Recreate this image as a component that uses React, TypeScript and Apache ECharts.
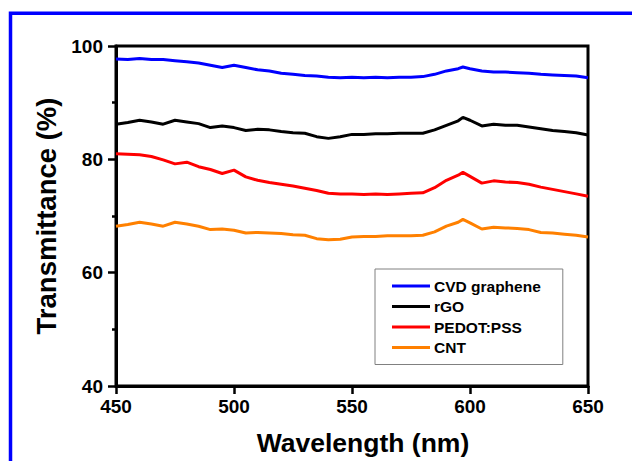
import React, { useEffect, useRef } from "react";
import * as echarts from "echarts";

const wavelengths = [
  450, 455, 460, 465, 470, 475, 480, 485, 490, 495, 500, 505, 510, 515, 520, 525, 530, 535, 540, 545,
  550, 555, 560, 565, 570, 575, 580, 585, 590, 595, 597, 600, 605, 610, 615, 620, 625, 630, 635, 640,
  645, 650,
];

const cvdGraphene = [
  97.7, 97.6, 97.8, 97.6, 97.6, 97.4, 97.2, 97.0, 96.6, 96.2, 96.6, 96.2, 95.8, 95.6, 95.2, 95.0, 94.8, 94.7, 94.5, 94.4,
  94.5, 94.4, 94.5, 94.4, 94.5, 94.5, 94.6, 95.0, 95.6, 96.0, 96.3, 96.0, 95.6, 95.4, 95.4, 95.3, 95.2, 95.0, 94.9, 94.8,
  94.7, 94.4,
];

const rGO = [
  86.2, 86.5, 86.9, 86.6, 86.2, 86.9, 86.6, 86.3, 85.6, 85.9, 85.6, 85.1, 85.3, 85.2, 84.9, 84.7, 84.6, 84.0, 83.7, 84.0,
  84.4, 84.4, 84.5, 84.5, 84.6, 84.6, 84.6, 85.2, 86.0, 86.8, 87.4, 86.9, 85.9, 86.2, 86.0, 86.0, 85.7, 85.4, 85.1, 84.9,
  84.7, 84.3,
];

const pedotPss = [
  81.0, 80.9, 80.8, 80.5, 79.9, 79.2, 79.5, 78.7, 78.2, 77.5, 78.1, 76.9, 76.3, 75.9, 75.6, 75.3, 74.9, 74.5, 74.0, 73.9,
  73.9, 73.8, 73.9, 73.8, 73.9, 74.0, 74.1, 75.0, 76.3, 77.2, 77.7, 77.0, 75.8, 76.2, 76.0, 75.9, 75.6, 75.1, 74.7, 74.3,
  73.9, 73.5,
];

const cnt = [
  68.2, 68.5, 68.9, 68.6, 68.2, 68.9, 68.6, 68.2, 67.6, 67.7, 67.5, 67.0, 67.1, 67.0, 66.9, 66.7, 66.6, 66.0, 65.8, 65.9,
  66.3, 66.4, 66.4, 66.5, 66.5, 66.5, 66.6, 67.2, 68.2, 68.9, 69.4, 68.8, 67.7, 68.0, 67.9, 67.8, 67.6, 67.1, 67.0, 66.8,
  66.6, 66.3,
];

const seriesNames = ["CVD graphene", "rGO", "PEDOT:PSS", "CNT"];
const seriesValues = [cvdGraphene, rGO, pedotPss, cnt];
const seriesColors = ["#0000FF", "#000000", "#FF0000", "#FF8000"];

const FONT = "'Liberation Sans', Arial, sans-serif";

export default function App() {
  const ref = useRef<HTMLDivElement>(null);

  useEffect(() => {
    if (!ref.current) return;
    const chart = echarts.init(ref.current, null, { renderer: "svg" });
    chart.setOption({
      animation: false,
      backgroundColor: "#ffffff",
      textStyle: { fontFamily: FONT },
      graphic: [
        {
          type: "rect",
          z: -10,
          shape: { x: 10.5, y: 13.3, width: 800, height: 800 },
          style: { fill: "none", stroke: "#0000FF", lineWidth: 3.5 },
        },
      ],
      grid: {
        left: 116,
        width: 472,
        top: 46,
        height: 344,
        show: true,
        borderColor: "#000",
        borderWidth: 3,
        backgroundColor: "transparent",
      },
      legend: {
        orient: "vertical",
        left: 375,
        top: 269,
        padding: [9, 22, 9, 17],
        itemGap: 4.5,
        itemWidth: 38,
        itemHeight: 3,
        icon: "rect",
        backgroundColor: "#fff",
        borderColor: "#808080",
        borderWidth: 1,
        textStyle: { fontFamily: FONT, fontSize: 15.5, fontWeight: "bold", color: "#000", padding: [0, 0, 0, -1] },
        data: seriesNames,
      },
      xAxis: {
        type: "value",
        min: 450,
        max: 650,
        interval: 50,
        name: "Wavelength (nm)",
        nameLocation: "middle",
        nameGap: 43,
        nameTextStyle: { fontFamily: FONT, fontSize: 26.5, fontWeight: "bold", color: "#000", padding: [0, 0, 0, 22] },
        axisLine: { show: true, lineStyle: { color: "#000", width: 3 } },
        axisTick: { show: true, inside: false, length: 8, lineStyle: { color: "#000", width: 2.5 } },
        axisLabel: { fontFamily: FONT, fontSize: 19, fontWeight: "bold", color: "#000", margin: 11 },
        splitLine: { show: false },
      },
      yAxis: {
        type: "value",
        min: 40,
        max: 100,
        interval: 20,
        name: "Transmittance (%)",
        nameLocation: "middle",
        nameGap: 45,
        nameTextStyle: { fontFamily: FONT, fontSize: 27.5, fontWeight: "bold", color: "#000" },
        axisLine: { show: true, lineStyle: { color: "#000", width: 3 } },
        axisTick: { show: true, inside: false, length: 8, lineStyle: { color: "#000", width: 2.5 } },
        minorTick: { show: true, splitNumber: 2, length: 4, lineStyle: { color: "#000", width: 2.5 } },
        axisLabel: { fontFamily: FONT, fontSize: 19, fontWeight: "bold", color: "#000", margin: 13 },
        splitLine: { show: false },
        minorSplitLine: { show: false },
      },
      series: seriesNames.map((name, i) => ({
        name,
        type: "line",
        showSymbol: false,
        symbol: "none",
        color: seriesColors[i],
        lineStyle: { color: seriesColors[i], width: 3 },
        data: wavelengths.map((w, j) => [w, seriesValues[i][j]]),
      })),
    });
    return () => chart.dispose();
  }, []);

  return (
    <div
      ref={ref}
      style={{ position: "fixed", left: 0, top: 0, width: 632, height: 461 }}
    />
  );
}
